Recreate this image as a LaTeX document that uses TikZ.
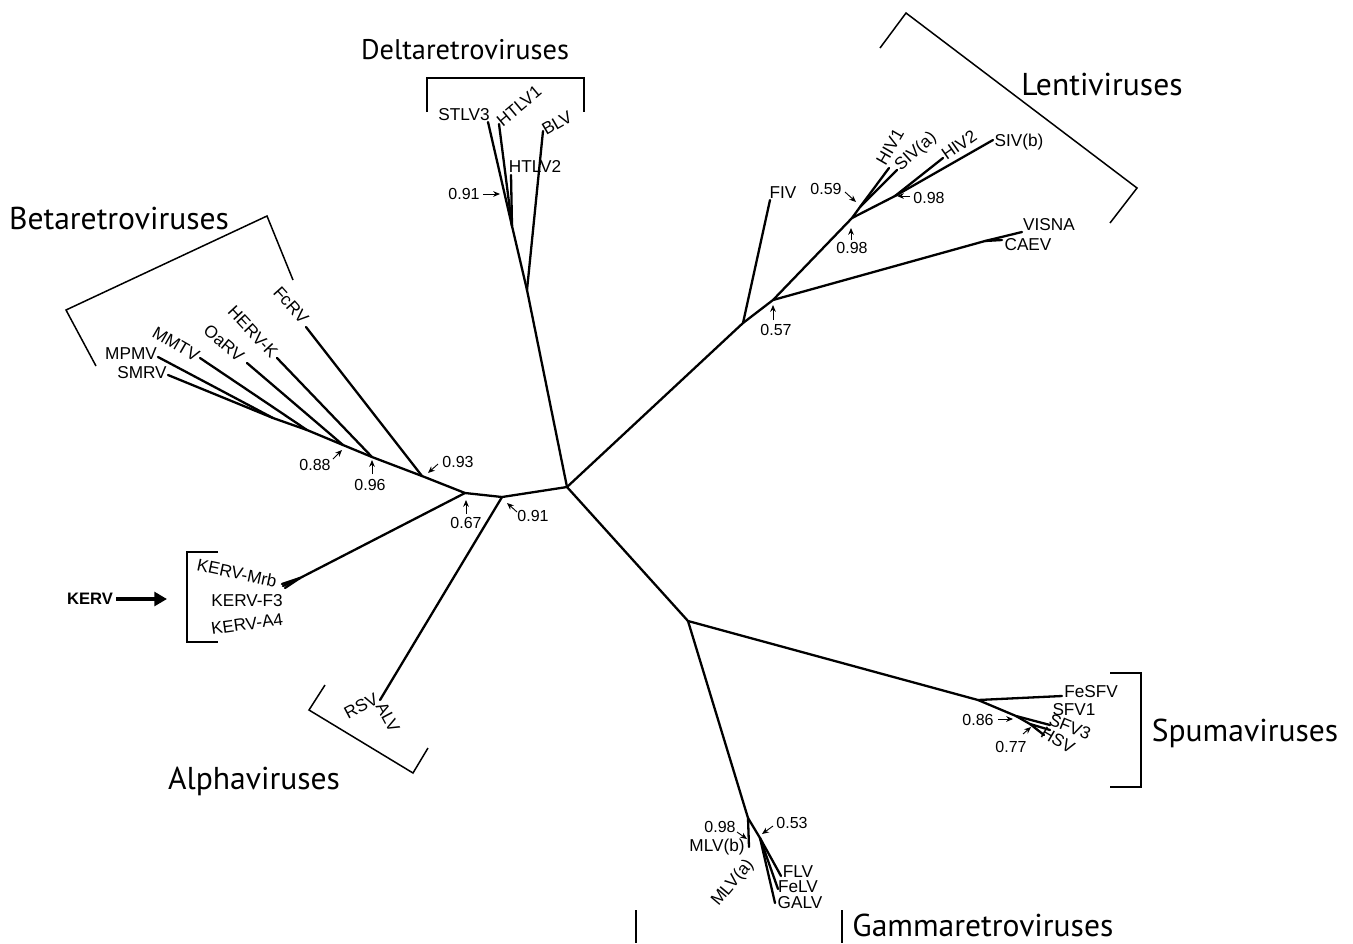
\documentclass[tikz,border=0pt]{standalone}
\usepackage{fontspec}
\setmainfont{Liberation Sans}
\newfontfamily\groupfont{PT Sans}
\usetikzlibrary{arrows.meta}
\tikzset{
  branch/.style={line width=1.15pt, line cap=round, line join=round},
  bracket/.style={line width=0.75pt},
  leaf/.style={font=\fontsize{8.6}{9}\selectfont, inner sep=0pt},
  group/.style={font=\groupfont\fontsize{15.8}{18}\selectfont, inner sep=0pt},
  supp/.style={font=\fontsize{8}{9}\selectfont, inner sep=0pt},
  pointer/.style={-{Stealth[length=1.2mm,width=1mm]}, line width=0.45pt},
}

\begin{document}
\begin{tikzpicture}[x=0.5pt, y=-0.5pt]
  \useasboundingbox (0,0) rectangle (1353,943);

  % inner nodes
  \coordinate (c) at (567,487);
  \coordinate (d0) at (527,290);
  \coordinate (d1) at (512,226);
  \coordinate (l0) at (743,323);
  \coordinate (l1) at (773,300);
  \coordinate (l2) at (985,241);
  \coordinate (l3) at (852,218);
  \coordinate (l5) at (860,207);
  \coordinate (l4) at (895,196);
  \coordinate (bn) at (502,497);
  \coordinate (b0) at (465,493);
  \coordinate (b1) at (422,476);
  \coordinate (b2) at (372,457);
  \coordinate (b3) at (343,445);
  \coordinate (b4) at (307,430);
  \coordinate (b5) at (273,418);
  \coordinate (k0) at (300,578);
  \coordinate (g0) at (688,621);
  \coordinate (g1) at (748,818);
  \coordinate (g2) at (760,838);
  \coordinate (s0) at (978,700);
  \coordinate (s1) at (1016,716);
  \coordinate (s2) at (1030,724);

  % tips
  \coordinate (stlv3t) at (488,122);
  \coordinate (htlv1t) at (499,124);
  \coordinate (htlv2t) at (511,175);
  \coordinate (blvt) at (543,131);
  \coordinate (fivt) at (770,200);
  \coordinate (visnat) at (1022,232);
  \coordinate (caevt) at (1002,240);
  \coordinate (hiv1t) at (889,168);
  \coordinate (sivat) at (897,170);
  \coordinate (hiv2t) at (943,158);
  \coordinate (sivbt) at (993,140);
  \coordinate (fcrvt) at (306,327);
  \coordinate (hervkt) at (277,358);
  \coordinate (oarvt) at (247,363);
  \coordinate (mmtvt) at (200,358);
  \coordinate (mpmvt) at (158,357);
  \coordinate (smrvt) at (168,375);
  \coordinate (kmrbt) at (282,584);
  \coordinate (kf3t) at (283,586);
  \coordinate (ka4t) at (285,588);
  \coordinate (alvt) at (380,700);
  \coordinate (fesfvt) at (1062,696);
  \coordinate (sfv1t) at (1050,725);
  \coordinate (sfv3t) at (1050,730);
  \coordinate (hsvt) at (1044,735);
  \coordinate (mlvbt) at (749,847);
  \coordinate (flvt) at (781,876);
  \coordinate (felvt) at (778,889);
  \coordinate (galvt) at (775,903);

  % branches
  \draw[branch] (c) -- (d0) -- (blvt);
  \draw[branch] (d0) -- (d1) -- (stlv3t);
  \draw[branch] (d1) -- (htlv1t);
  \draw[branch] (d1) -- (htlv2t);
  \draw[branch] (c) -- (l0) -- (fivt);
  \draw[branch] (l0) -- (l1) -- (l2) -- (visnat);
  \draw[branch] (l2) -- (caevt);
  \draw[branch] (l1) -- (l3) -- (l5) -- (hiv1t);
  \draw[branch] (l5) -- (sivat);
  \draw[branch] (l3) -- (l4) -- (hiv2t);
  \draw[branch] (l4) -- (sivbt);
  \draw[branch] (c) -- (bn) -- (b0) -- (b1) -- (fcrvt);
  \draw[branch] (bn) -- (alvt);
  \draw[branch] (b1) -- (b2) -- (hervkt);
  \draw[branch] (b2) -- (b3) -- (oarvt);
  \draw[branch] (b3) -- (b4) -- (mmtvt);
  \draw[branch] (b4) -- (b5) -- (mpmvt);
  \draw[branch] (b5) -- (smrvt);
  \draw[branch] (b0) -- (k0) -- (kmrbt);
  \draw[branch] (k0) -- (kf3t);
  \draw[branch] (k0) -- (ka4t);
  \draw[branch] (c) -- (g0) -- (s0) -- (fesfvt);
  \draw[branch] (s0) -- (s1) -- (sfv1t);
  \draw[branch] (s1) -- (s2) -- (sfv3t);
  \draw[branch] (s2) -- (hsvt);
  \draw[branch] (g0) -- (g1) -- (mlvbt);
  \draw[branch] (g1) -- (g2) -- (flvt);
  \draw[branch] (g2) -- (felvt);
  \draw[branch] (g2) -- (galvt);

  % leaf labels
  \node[leaf] (stlv3) at (464,115) {STLV3};
  \node[leaf, rotate=40] (htlv1) at (519,106) {HTLV1};
  \node[leaf] (htlv2) at (535,166) {HTLV2};
  \node[leaf, rotate=30] (blv) at (557,123) {BLV};
  \node[leaf] (fiv) at (783,193) {FIV};
  \node[leaf, rotate=60] (hiv1) at (890,147) {HIV1};
  \node[leaf, rotate=42] (siva) at (916,152) {SIV(a)};
  \node[leaf, rotate=35] (hiv2) at (959,145) {HIV2};
  \node[leaf] (sivb) at (1019,142) {SIV(b)};
  \node[leaf] (visna) at (1049,225) {VISNA};
  \node[leaf] (caev) at (1028,245) {CAEV};
  \node[leaf, rotate=-48] (fcrv) at (291,305) {FcRV};
  \node[leaf, rotate=-47] (hervk) at (253,332) {HERV-K};
  \node[leaf, rotate=-40] (oarv) at (224,343) {OaRV};
  \node[leaf, rotate=-30] (mmtv) at (176,344) {MMTV};
  \node[leaf] (mpmv) at (131,354) {MPMV};
  \node[leaf] (smrv) at (142,373) {SMRV};
  \node[leaf, rotate=-12] (kmrb) at (237,573) {KERV-Mrb};
  \node[leaf] (kf3) at (247,601) {KERV-F3};
  \node[leaf, rotate=8] (ka4) at (247,624) {KERV-A4};
  \node[leaf, rotate=28] (rsv) at (361,706) {RSV};
  \node[leaf, rotate=-62] (alv) at (388,717) {ALV};
  \node[leaf] (fesfv) at (1091,692) {FeSFV};
  \node[leaf] (sfv1) at (1074,710) {SFV1};
  \node[leaf, rotate=-22] (sfv3) at (1070,727) {SFV3};
  \node[leaf, rotate=-30] (hsv) at (1058,740) {HSV};
  \node[leaf] (mlvb) at (717,847) {MLV(b)};
  \node[leaf, rotate=50] (mlva) at (733,883) {MLV(a)};
  \node[leaf] (flv) at (798,872) {FLV};
  \node[leaf] (felv) at (798,887) {FeLV};
  \node[leaf] (galv) at (800,903) {GALV};

  % support values
  \node[supp] (s091d) at (464,194) {0.91};
  \draw[pointer] (483,194) -- (500,194);
  \node[supp] (s057) at (776,330) {0.57};
  \draw[pointer] (773,320) -- (773,305);
  \node[supp] (s098a) at (852,248) {0.98};
  \draw[pointer] (851,240) -- (851,228);
  \node[supp] (s059) at (826,189) {0.59};
  \draw[pointer] (845,192) -- (856,202);
  \node[supp] (s098b) at (929,198) {0.98};
  \draw[pointer] (910,196) -- (897,196);
  \node[supp] (s093) at (458,462) {0.93};
  \draw[pointer] (438,464) -- (428,473);
  \node[supp] (s096) at (370,485) {0.96};
  \draw[pointer] (372,474) -- (372,460);
  \node[supp] (s088) at (315,465) {0.88};
  \draw[pointer] (333,459) -- (342,450);
  \node[supp] (s067) at (466,523) {0.67};
  \draw[pointer] (466,514) -- (466,500);
  \node[supp] (s091b) at (533,516) {0.91};
  \draw[pointer] (517,512) -- (507,503);
  \node[supp] (s086) at (978,720) {0.86};
  \draw[pointer] (998,719) -- (1013,719);
  \node[supp] (s077) at (1011,747) {0.77};
  \draw[pointer] (1023,734) -- (1031,727);
  \node[supp] (s098c) at (720,827) {0.98};
  \draw[pointer] (737,832) -- (747,839);
  \node[supp] (s053) at (792,823) {0.53};
  \draw[pointer] (773,826) -- (762,834);

  % brackets and group names
  \draw[bracket] (427,112) -- (427,78) -- (584,78) -- (584,112);
  \node[group, font=\groupfont\fontsize{14.2}{16}\selectfont] (delta) at (465,50) {Deltaretroviruses};
  \draw[bracket] (880,48) -- (906,13) -- (1137,188) -- (1110,223);
  \node[group] (lenti) at (1102,84) {Lentiviruses};
  \draw[bracket] (293,280) -- (267,216) -- (66,310) -- (96,366);
  \node[group] (beta) at (119,218) {Betaretroviruses};
  \draw[bracket] (218,552) -- (187,552) -- (187,642) -- (218,642);
  \draw[bracket] (325,685) -- (309,710) -- (413,773) -- (428,748);
  \node[group] (alpha) at (254,781) {Alphaviruses};
  \draw[bracket] (1110,673) -- (1141,673) -- (1141,787) -- (1110,787);
  \node[group] (spuma) at (1245,733) {Spumaviruses};
  \draw[bracket] (636,910) -- (636,943);
  \draw[bracket] (842,910) -- (842,943);
  \node[group, anchor=west] (gamma) at (852,925) {Gammaretroviruses};

  % KERV pointer
  \node[font=\bfseries\fontsize{8.3}{9}\selectfont, inner sep=0pt] (kerv) at (90,599) {KERV};
  \coordinate (kervend) at (167,599);
  \draw[line width=2pt, -{Triangle[length=2.2mm,width=2.4mm]}] (kerv.east) ++(3,0) -- (kervend);
\end{tikzpicture}
\end{document}
